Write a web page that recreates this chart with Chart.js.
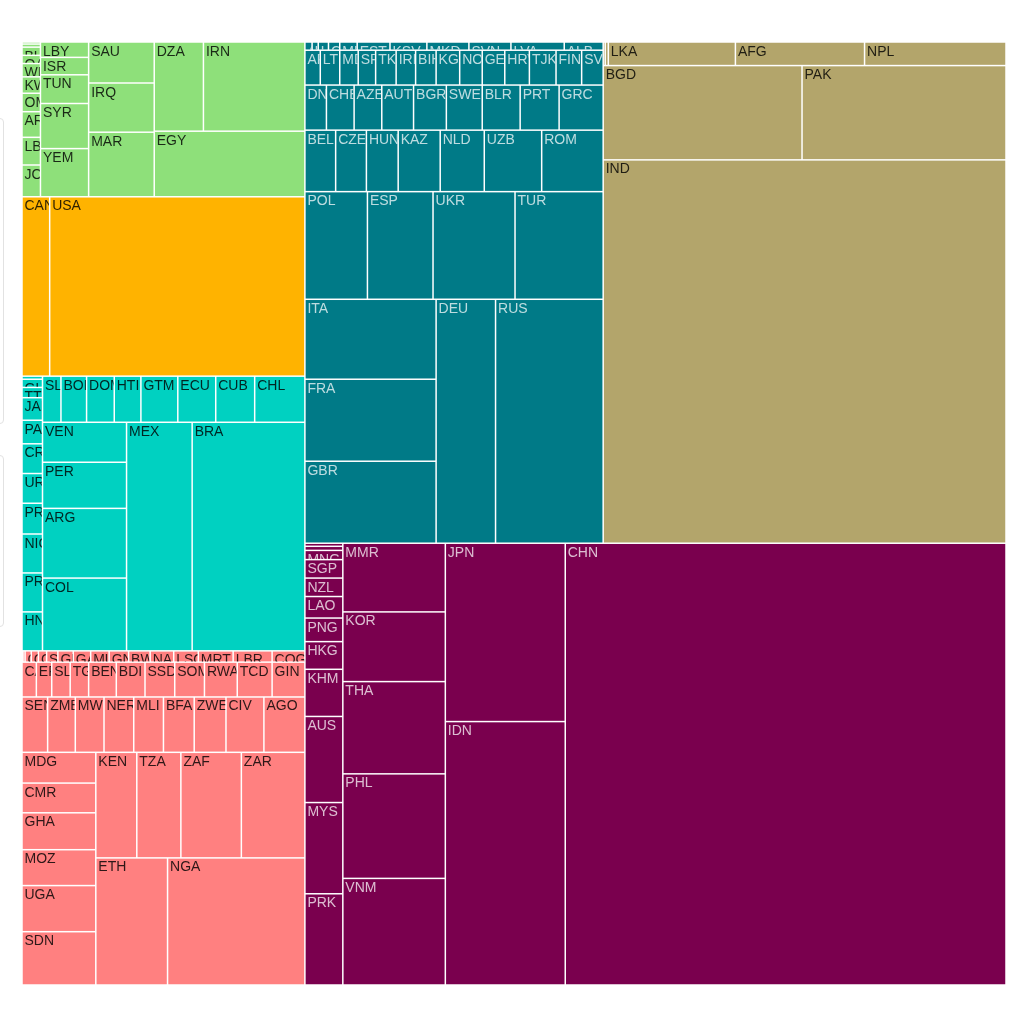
<!DOCTYPE html>
<html>
<head>
<meta charset="utf-8">
<title>World population by region</title>
<script src="https://cdn.jsdelivr.net/npm/chart.js@4.4.1/dist/chart.umd.min.js"></script>
<style>
  html, body { margin: 0; padding: 0; background: #fff; }
  #wrap { position: relative; width: 1024px; height: 1024px; overflow: hidden; }
  #chart { position: absolute; left: 0; top: 0; }
  .panel { position: absolute; left: -300px; width: 302px; border: 1px solid #e2e2e2; border-radius: 4px; background: #fff; }
</style>
</head>
<body>
<div id="wrap">
  <div class="panel" style="top:118px;height:304px"></div>
  <div class="panel" style="top:455px;height:170px"></div>
  <canvas id="chart" width="1024" height="1024"></canvas>
</div>
<script>
// Population (millions) by World Bank region, country ISO codes.
// Countries are listed in the order the treemap places them.
const regionNames  = ['Middle East & North Africa', 'North America', 'Latin America & Caribbean',
                      'Sub-Saharan Africa', 'Europe & Central Asia', 'South Asia', 'East Asia & Pacific'];
const regionColors = ['#8ee07a', '#ffb300', '#00d1c1', '#ff8080', '#007a87', '#b3a56b', '#7a004e'];
const regionInk    = ['dark', 'dark', 'dark', 'dark', 'light', 'dark', 'light'];

const menaCodes = ['DJI','MLT','BHR','QAT','WBG','KWT','OMN','ARE','LBN','JOR',
                   'LBY','ISR','TUN','SYR','YEM','SAU','IRQ','MAR','DZA','IRN','EGY'];
const menaPop   = [0.28, 0.33, 0.88, 0.94, 1.49, 1.82, 2.04, 2.93, 3.2, 3.32,
                   4.57, 5.16, 8.4, 13.41, 14.44, 16.76, 19.96, 25.54, 26.78, 55.74, 61.6];

const namCodes = ['CAN','USA'];
const namPop   = [30.77, 280.26];

const lacCodes = ['SUR','GUY','TTO','JAM','PAN','CRI','URY','PRI','NIC','PRY','HND',
                  'SLV','BOL','DOM','HTI','GTM','ECU','CUB','CHL','VEN','PER','ARG','COL','MEX','BRA'];
const lacPop   = [0.45, 0.97, 1.35, 2.84, 2.97, 3.81, 3.74, 3.87, 4.96, 4.96, 5.54,
                  5.31, 7.26, 7.82, 7.57, 10.36, 10.76, 11.07, 13.84, 20.77, 23.58, 36.04, 37.02, 92.38, 158.6];

const ssaCodes = ['SYC','STP','CPV','COM','GNQ','SWZ','GMB','GAB','MUS','GNB','BWA','NAM','LSO','MRT','LBR','COG',
                  'CAF','ERI','SLE','TGO','BEN','BDI','SSD','SOM','RWA','TCD','GIN',
                  'SEN','ZMB','MWI','NER','MLI','BFA','ZWE','CIV','AGO',
                  'MDG','CMR','GHA','MOZ','UGA','SDN','KEN','TZA','ZAF','ZAR','ETH','NGA'];
const ssaPop   = [0.092, 0.127, 0.40, 0.49, 0.58, 0.76, 1.04, 1.17, 1.29, 1.36, 1.47, 1.65, 1.72, 2.40, 2.70, 2.73,
                  3.13, 3.33, 3.96, 4.02, 5.99, 6.14, 6.35, 6.42, 7.07, 7.41, 6.10,
                  8.78, 9.22, 9.79, 9.93, 10.13, 10.33, 10.71, 12.73, 13.95,
                  13.73, 13.64, 16.52, 16.2, 20.79, 23.54, 26.37, 28.43, 39.26, 41.13, 55.52, 108.0];

const ecaCodes = ['AND','ISL','LUX','CYP','MNE','EST','KSV','MKD','SVN','LVA','ALB',
                  'ARM','LTU','MDA','SRB','TKM','IRL','BIH','KGZ','NOR','GEO','HRV','TJK','FIN','SVK',
                  'DNK','CHE','AZE','AUT','BGR','SWE','BLR','PRT','GRC',
                  'BEL','CZE','HUN','KAZ','NLD','UZB','ROM',
                  'POL','ESP','UKR','TUR','ITA','FRA','GBR','DEU','RUS'];
const ecaPop   = [0.337, 0.332, 0.504, 0.589, 0.871, 1.66, 1.858, 2.095, 2.1, 2.679, 1.979,
                  3.25, 4.07, 3.99, 3.64, 4.29, 4.23, 4.33, 4.96, 4.9, 4.88, 5.35, 5.68, 5.44, 5.57,
                  5.86, 7.54, 7.6, 8.9, 9.2, 9.81, 10.42, 10.86, 12.16,
                  11.42, 11.53, 11.87, 15.99, 16.48, 21.57, 22.73,
                  41.08, 43.19, 54.07, 58.16, 63.95, 66.36, 65.96, 88.84, 161.35];

const sasCodes = ['MDV','BTN','LKA','AFG','NPL','BGD','PAK','IND'];
const sasPop   = [0.25, 0.44, 18.4, 18.71, 20.35, 115.3, 117.28, 948.9];

const eapCodes = ['FJI','TLS','MNG','SGP','NZL','LAO','PNG','HKG','KHM','AUS','MYS','PRK',
                  'MMR','KOR','THA','PHL','VNM','JPN','IDN','CHN'];
const eapPop   = [0.71, 0.94, 2.12, 4.19, 4.21, 5.01, 5.41, 6.35, 11.05, 20.11, 21.28, 22.58,
                  43.32, 44.02, 58.01, 65.9, 67.47, 131.7, 192.6, 1195.5];

const regionCodes = [menaCodes, namCodes, lacCodes, ssaCodes, ecaCodes, sasCodes, eapCodes];
const regionPops  = [menaPop, namPop, lacPop, ssaPop, ecaPop, sasPop, eapPop];

// ---- strip treemap layout ----
// The treemap keeps a fixed strip structure (sticky layout): each level is cut
// into strips along its shorter side; these are the cell counts of each strip.
const regionStrips  = [4, 2, 1];
const countryStrips = [
  [10, 5, 3, 2, 1],            // Middle East & North Africa
  [1, 1],                      // North America
  [11, 8, 4, 2],               // Latin America & Caribbean
  [16, 11, 9, 6, 4, 1, 1],     // Sub-Saharan Africa
  [11, 14, 9, 7, 4, 3, 2],     // Europe & Central Asia
  [5, 2, 1],                   // South Asia
  [12, 5, 2, 1]                // East Asia & Pacific
];

function position(row, u, rect, flush) {
  let x = rect.x, y = rect.y, o;
  let v = u ? Math.round(row.area / u) : 0;
  if (u === rect.dx) {
    if (flush || v > rect.dy) v = rect.dy;
    for (o of row) {
      o.x = x; o.y = y; o.dy = v;
      x += o.dx = Math.min(rect.x + rect.dx - x, v ? Math.round(o.area / v) : 0);
    }
    o.dx += rect.x + rect.dx - x;
    rect.y += v; rect.dy -= v;
  } else {
    if (flush || v > rect.dx) v = rect.dx;
    for (o of row) {
      o.x = x; o.y = y; o.dx = v;
      y += o.dy = Math.min(rect.y + rect.dy - y, v ? Math.round(o.area / v) : 0);
    }
    o.dy += rect.y + rect.dy - y;
    rect.x += v; rect.dx -= v;
  }
}

function stripLayout(nodes, box, counts) {
  const rect = { x: box.x, y: box.y, dx: box.dx, dy: box.dy };
  const total = nodes.reduce((s, n) => s + n.value, 0);
  const k = rect.dx * rect.dy / total;
  nodes.forEach(n => { n.area = n.value * k; });
  let i = 0;
  counts.forEach((n, s) => {
    const row = nodes.slice(i, i + n);
    row.area = row.reduce((a, c) => a + c.area, 0);
    i += n;
    position(row, Math.min(rect.dx, rect.dy), rect, s === counts.length - 1);
  });
}

function layoutTree(groups, x0, y0, w, h) {
  const regions = groups.map(g => ({
    value: g.values.reduce((s, v) => s + v, 0),
    g,
    kids: g.codes.map((c, j) => ({ code: c, value: g.values[j] }))
  }));
  stripLayout(regions, { x: x0, y: y0, dx: w, dy: h }, regionStrips);
  const leaves = [];
  regions.forEach(r => {
    stripLayout(r.kids, r, r.g.strips);
    r.kids.forEach(k => leaves.push({ code: k.code, x: k.x, y: k.y, dx: k.dx, dy: k.dy, color: r.g.color, ink: r.g.ink }));
  });
  return leaves;
}

// ---- Chart.js element + controller ----
class TreemapCell extends Chart.Element {
  static id = 'treemapCell';
  static defaults = {};
  draw(ctx) {
    const g = 0.75;
    const l = this.x + g, t = this.y + g, w = this.width - 2 * g, h = this.height - 2 * g;
    if (w <= 0 || h <= 0) return;
    ctx.save();
    ctx.fillStyle = this.fill;
    ctx.fillRect(l, t, w, h);
    ctx.beginPath();
    ctx.rect(l, t, w, h);
    ctx.clip();
    ctx.fillStyle = this.ink === 'light' ? 'rgba(255,255,255,0.74)' : 'rgba(0,0,0,0.82)';
    ctx.font = '14px "Liberation Sans", Arial, Helvetica, sans-serif';
    ctx.textBaseline = 'alphabetic';
    ctx.textAlign = 'left';
    ctx.fillText(this.label, this.x + 2.5, this.y + 13.5);
    ctx.restore();
  }
  inRange(mx, my) { return mx >= this.x && mx <= this.x + this.width && my >= this.y && my <= this.y + this.height; }
  getCenterPoint() { return { x: this.x + this.width / 2, y: this.y + this.height / 2 }; }
}

class TreemapController extends Chart.DatasetController {
  static id = 'treemap';
  static defaults = { datasetElementType: false, dataElementType: 'treemapCell' };
  static overrides = { scales: { x: { type: 'linear', display: false }, y: { type: 'linear', display: false } } };

  update(mode) {
    const meta = this._cachedMeta;
    const ds = this.getDataset();
    const xs = meta.xScale, ys = meta.yScale;
    const leaves = layoutTree(ds.groups, xs.min, ys.min, xs.max - xs.min, ys.max - ys.min);
    leaves.forEach((c, i) => {
      const el = meta.data[i];
      if (!el) return;
      const px0 = xs.getPixelForValue(c.x), px1 = xs.getPixelForValue(c.x + c.dx);
      const py0 = ys.getPixelForValue(c.y), py1 = ys.getPixelForValue(c.y + c.dy);
      Object.assign(el, {
        x: Math.min(px0, px1), y: Math.min(py0, py1),
        width: Math.abs(px1 - px0), height: Math.abs(py1 - py0),
        fill: c.color, ink: c.ink, label: c.code
      });
    });
  }
  draw() {
    const ctx = this._ctx;
    this._cachedMeta.data.forEach(el => el.draw(ctx));
  }
}

Chart.register(TreemapController, TreemapCell);

const groups = regionNames.map((name, i) => ({
  name, color: regionColors[i], ink: regionInk[i],
  codes: regionCodes[i], values: regionPops[i], strips: countryStrips[i]
}));

new Chart(document.getElementById('chart'), {
  type: 'treemap',
  data: {
    datasets: [{
      label: 'Population',
      data: regionPops.flat(),
      groups
    }]
  },
  options: {
    responsive: false,
    animation: false,
    events: [],
    layout: { padding: { left: 22, top: 42, right: 18, bottom: 39 } },
    scales: {
      x: { type: 'linear', min: 0, max: 960, display: false },
      y: { type: 'linear', min: 0, max: 920, reverse: true, display: false }
    },
    plugins: { legend: { display: false }, tooltip: { enabled: false } }
  }
});
</script>
</body>
</html>
